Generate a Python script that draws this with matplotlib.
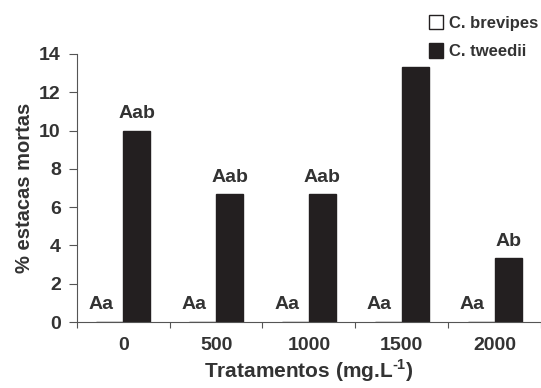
import matplotlib.pyplot as plt
import numpy as np

plt.rcParams['font.family'] = ['Liberation Sans', 'DejaVu Sans']
plt.rcParams['font.weight'] = 'bold'
plt.rcParams['mathtext.fontset'] = 'custom'
plt.rcParams['mathtext.bf'] = 'Liberation Sans:bold'
plt.rcParams['mathtext.rm'] = 'Liberation Sans:bold'

tratamentos = ['0', '500', '1000', '1500', '2000']
brevipes = [0, 0, 0, 0, 0]
tweedii = [10.0, 6.67, 6.67, 13.33, 3.33]
letras_brevipes = ['Aa', 'Aa', 'Aa', 'Aa', 'Aa']
letras_tweedii = ['Aab', 'Aab', 'Aab', '', 'Ab']

ink = '#231f20'
txt = '#333333'
axc = '#555555'

fig = plt.figure(figsize=(5.41, 3.88), dpi=100)
ax = fig.add_axes([0.142, 0.170, 0.858, 0.691])

x = np.arange(len(tratamentos))
w = 0.29
b1 = ax.bar(x - w / 2, brevipes, w, color='white', edgecolor=ink, linewidth=1, label='C. brevipes')
b2 = ax.bar(x + w / 2, tweedii, w, color=ink, edgecolor=ink, linewidth=1, label='C. tweedii')

for i in range(len(x)):
    ax.text(x[i] - 0.24, brevipes[i] + 0.45, letras_brevipes[i], ha='center', va='bottom',
            fontsize=14, fontweight='bold', color=txt)
    if letras_tweedii[i]:
        ax.text(x[i] + w / 2, tweedii[i] + 0.45, letras_tweedii[i], ha='center', va='bottom',
                fontsize=14, fontweight='bold', color=txt)

ax.set_xlim(-0.5, len(x) - 0.5)
ax.set_ylim(0, 14)
ax.set_yticks(range(0, 15, 2))
ax.set_xticks(x)
ax.set_xticklabels(tratamentos)
ax.set_xticks(np.arange(-0.5, len(x), 1), minor=True)
ax.tick_params(axis='x', which='major', length=0, pad=11, labelsize=14, labelcolor=txt)
ax.tick_params(axis='x', which='minor', length=4, width=0.8, color=axc)
ax.tick_params(axis='y', length=5.5, width=0.8, color=axc, labelsize=14, labelcolor=txt, pad=6)
for lab in ax.get_xticklabels() + ax.get_yticklabels():
    lab.set_fontweight('bold')

for s in ['top', 'right']:
    ax.spines[s].set_visible(False)
for s in ['left', 'bottom']:
    ax.spines[s].set_color(axc)
    ax.spines[s].set_linewidth(0.8)

ax.set_xlabel('Tratamentos (mg.L$^{\\mathbf{\\text{-}1}}$)', fontsize=15, fontweight='bold', color=txt, labelpad=2)
ax.set_ylabel('% estacas mortas', fontsize=14.5, fontweight='bold', color=txt, labelpad=4)

fig.legend(handles=[b1, b2], loc='upper right', bbox_to_anchor=(1.022, 1.0), frameon=False,
           prop={'size': 12, 'weight': 'bold'}, labelcolor=txt, handlelength=0.85, handleheight=0.95,
           handletextpad=0.35, labelspacing=0.75)

fig.savefig('out.png', dpi=100)
